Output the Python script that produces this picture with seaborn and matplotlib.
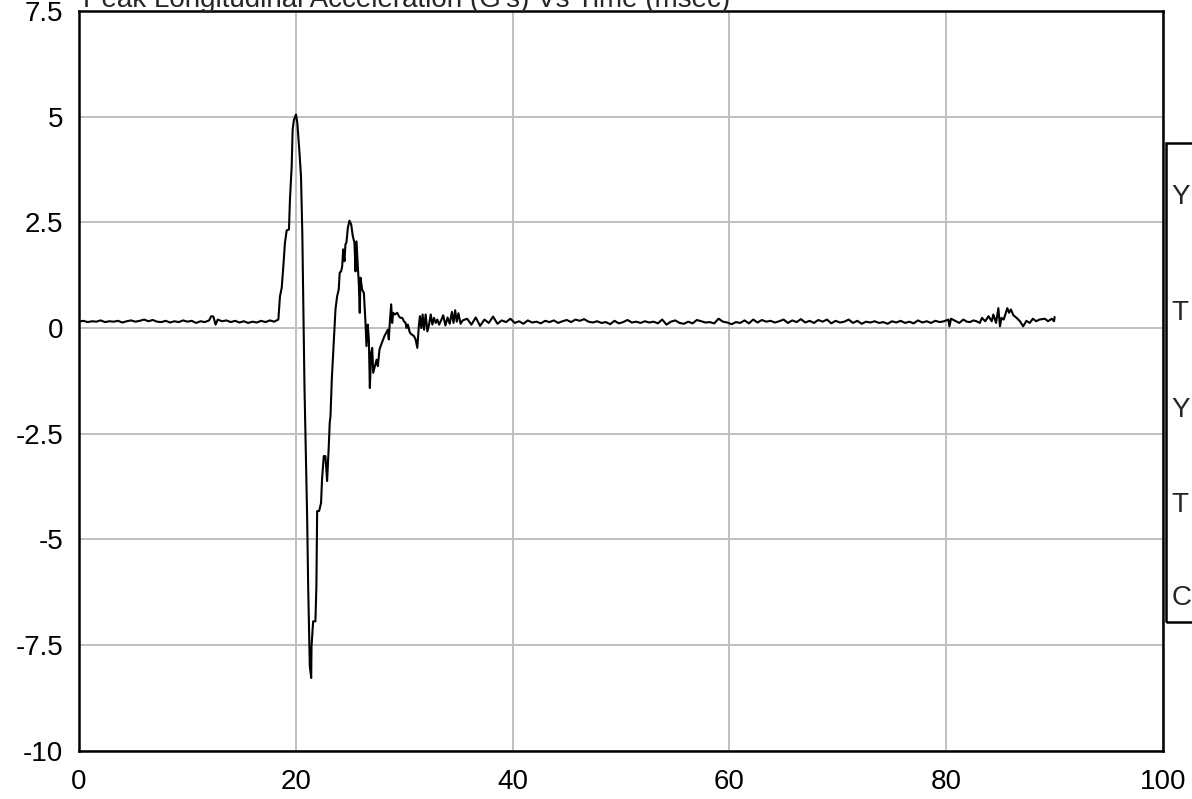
import matplotlib
matplotlib.use("Agg")
import matplotlib.pyplot as plt
import matplotlib.ticker as mticker
from matplotlib.patches import Rectangle
import seaborn as sns
import pandas as pd

# Signal data (time in msec, acceleration in G's)
pre_t = [0.0, 0.4, 0.8, 1.2, 1.6, 2.0, 2.4, 2.8, 3.2, 3.6, 4.0, 4.4, 4.8, 5.2, 5.6,
         6.0, 6.4, 6.8, 7.2, 7.6, 8.0, 8.4, 8.8, 9.2, 9.6, 10.0, 10.4, 10.8, 11.2,
         11.6, 12.0, 12.2, 12.4, 12.6, 12.8, 13.2, 13.6, 14.0, 14.4, 14.8, 15.2,
         15.6, 16.0, 16.4, 16.8, 17.2, 17.6, 18.0, 18.3]
pre_g = [0.15, 0.17, 0.14, 0.16, 0.15, 0.18, 0.14, 0.16, 0.15, 0.17, 0.13, 0.16, 0.18,
         0.15, 0.17, 0.20, 0.16, 0.19, 0.15, 0.14, 0.17, 0.13, 0.16, 0.14, 0.18, 0.15,
         0.17, 0.12, 0.16, 0.14, 0.18, 0.28, 0.27, 0.08, 0.20, 0.16, 0.18, 0.14, 0.17,
         0.13, 0.16, 0.12, 0.15, 0.13, 0.17, 0.14, 0.18, 0.15, 0.19]

crash_t = [18.39, 18.54, 18.7, 18.85, 19.0, 19.16, 19.37, 19.46, 19.62, 19.71, 19.83,
           20.02, 20.14, 20.32, 20.48, 20.6, 20.69, 20.8, 20.92, 21.05, 21.14, 21.23,
           21.29, 21.42, 21.45, 21.6, 21.81, 21.9, 21.97, 22.15, 22.33, 22.42, 22.58,
           22.73, 22.89, 23.04, 23.13, 23.2, 23.32, 23.45, 23.5, 23.66, 23.81, 23.96,
           24.05, 24.18, 24.28, 24.37, 24.49, 24.58, 24.67, 24.8, 24.95, 25.11, 25.26,
           25.41, 25.51, 25.6, 25.72, 25.81, 25.9, 25.97, 26.12, 26.28, 26.43, 26.52,
           26.64, 26.74, 26.83, 26.95, 27.05, 27.14, 27.26, 27.45, 27.57, 27.72, 27.88,
           28.06, 28.18, 28.34, 28.49, 28.58, 28.67, 28.8, 28.89, 28.98, 29.14, 29.36,
           29.51, 29.66, 29.82, 29.97, 30.13, 30.22, 30.34, 30.52, 30.68, 30.9, 31.05,
           31.21, 31.36, 31.45, 31.58, 31.7, 31.83, 31.98, 32.14, 32.29, 32.45, 32.6,
           32.75, 32.91, 33.06, 33.22, 33.37, 33.6, 33.8, 34.0, 34.2, 34.4, 34.55, 34.7,
           34.85, 35.0, 35.2, 35.4]
crash_g = [0.20, 0.75, 0.95, 1.46, 2.02, 2.31, 2.33, 3.04, 3.83, 4.70, 4.93,
           5.05, 4.85, 4.22, 3.59, 2.25, 0.67, -1.38, -2.95, -4.53, -6.10, -7.29,
           -8.00, -8.28, -7.53, -6.94, -6.94, -6.10, -4.33, -4.33, -4.14, -3.58, -3.03,
           -3.03, -3.62, -2.80, -2.24, -2.09, -1.22, -0.59, -0.35, 0.44, 0.75, 0.91,
           1.31, 1.34, 1.46, 1.86, 1.58, 1.98, 2.02, 2.37, 2.54, 2.45, 2.17,
           2.02, 1.34, 2.05, 1.46, 1.07, 0.36, 1.19, 0.91, 0.83, 0.12, -0.43,
           0.08, -0.27, -1.42, -0.59, -0.47, -1.06, -0.94, -0.75, -0.90, -0.51, -0.39,
           -0.27, -0.19, -0.11, -0.04, -0.27, 0.12, 0.56, 0.12, 0.36, 0.32, 0.36,
           0.28, 0.24, 0.24, 0.16, 0.12, 0.00, 0.08, -0.11, -0.15, -0.19, -0.27,
           -0.47, 0.08, 0.28, 0.00, 0.32, -0.04, 0.32, -0.08, 0.08, 0.32, 0.08,
           0.24, 0.12, 0.20, 0.08, 0.16, 0.30, 0.06, 0.25, 0.10, 0.38, 0.12, 0.42,
           0.15, 0.35, 0.10, 0.18]

post_t = [35.8, 36.2, 36.6, 37.0, 37.4, 37.8, 38.2, 38.6, 39.0, 39.4, 39.8, 40.2, 40.6,
          41.0, 41.4, 41.8, 42.2, 42.6, 43.0, 43.4, 43.8, 44.2, 44.6, 45.0, 45.4, 45.8,
          46.2, 46.6, 47.0, 47.4, 47.8, 48.2, 48.6, 49.0, 49.4, 49.8, 50.2, 50.6, 51.0,
          51.4, 51.8, 52.2, 52.6, 53.0, 53.4, 53.8, 54.2, 54.6, 55.0, 55.4, 55.8, 56.2,
          56.6, 57.0, 57.4, 57.8, 58.2, 58.6, 59.0, 59.4, 59.8, 60.2, 60.6, 61.0, 61.4,
          61.8, 62.2, 62.6, 63.0, 63.4, 63.8, 64.2, 64.6, 65.0, 65.4, 65.8, 66.2, 66.6,
          67.0, 67.4, 67.8, 68.2, 68.6, 69.0, 69.4, 69.8, 70.2, 70.6, 71.0, 71.4, 71.8,
          72.2, 72.6, 73.0, 73.4, 73.8, 74.2, 74.6, 75.0, 75.4, 75.8, 76.2, 76.6, 77.0,
          77.4, 77.8, 78.2, 78.6, 79.0, 79.4, 79.8, 80.2, 80.3, 80.45, 80.9, 81.2, 81.58,
          81.9, 82.2, 82.5, 82.8, 83.1, 83.3, 83.6, 83.9, 84.2, 84.35, 84.6, 84.81, 84.96,
          85.1, 85.3, 85.64, 85.8, 85.97, 86.2, 86.5, 86.8, 87.1, 87.4, 87.7, 88.0, 88.3,
          88.6, 89.1, 89.4, 89.73, 89.95, 90.0]
post_g = [0.22, 0.08, 0.25, 0.05, 0.20, 0.12, 0.27, 0.10, 0.18, 0.14, 0.22, 0.12, 0.16,
          0.10, 0.18, 0.13, 0.15, 0.11, 0.17, 0.14, 0.18, 0.12, 0.16, 0.19, 0.14, 0.20,
          0.17, 0.21, 0.15, 0.13, 0.16, 0.12, 0.14, 0.09, 0.17, 0.11, 0.14, 0.19, 0.13,
          0.15, 0.12, 0.16, 0.13, 0.15, 0.11, 0.20, 0.08, 0.15, 0.18, 0.12, 0.10, 0.15,
          0.11, 0.19, 0.16, 0.13, 0.14, 0.11, 0.22, 0.15, 0.13, 0.09, 0.14, 0.12, 0.18,
          0.11, 0.20, 0.13, 0.19, 0.15, 0.17, 0.13, 0.16, 0.20, 0.12, 0.18, 0.14, 0.21,
          0.13, 0.17, 0.12, 0.19, 0.15, 0.20, 0.11, 0.17, 0.13, 0.15, 0.20, 0.12, 0.17,
          0.10, 0.15, 0.13, 0.16, 0.12, 0.14, 0.10, 0.16, 0.13, 0.17, 0.12, 0.15, 0.11,
          0.18, 0.13, 0.16, 0.12, 0.17, 0.14, 0.16, 0.20, 0.04, 0.22, 0.16, 0.12, 0.20,
          0.15, 0.14, 0.18, 0.16, 0.12, 0.24, 0.16, 0.28, 0.16, 0.32, 0.12, 0.47, 0.04,
          0.24, 0.20, 0.47, 0.36, 0.44, 0.30, 0.24, 0.16, 0.04, 0.17, 0.12, 0.22, 0.16,
          0.20, 0.22, 0.16, 0.22, 0.16, 0.26]

x_ticks = [0, 20, 40, 60, 80, 100]
y_ticks = [-10, -7.5, -5, -2.5, 0, 2.5, 5, 7.5]
y_labels = ["-10", "-7.5", "-5", "-2.5", "0", "2.5", "5", "7.5"]
title = "Peak Longitudinal Acceleration (G's) Vs Time (msec)"
info_lines = ["Y max = 5.05 G's", "T at Y max = 20.0 msec", "Y min = -8.28 G's",
              "T at Y min = 21.4 msec", "CFC 60"]

df = pd.DataFrame({"t": pre_t + crash_t + post_t, "g": pre_g + crash_g + post_g})

sns.set_style("white")
plt.rcParams["font.family"] = ["Liberation Sans", "DejaVu Sans"]
plt.rcParams["axes.unicode_minus"] = False

fig = plt.figure(figsize=(11.92, 7.99), dpi=100)
ax = fig.add_axes([79 / 1192, 1 - 750.7 / 799, (1163 - 79) / 1192, (750.7 - 11) / 799])

sns.lineplot(data=df, x="t", y="g", color="black", linewidth=1.5,
             estimator=None, sort=False, ax=ax)

ax.set_xlim(0, 100)
ax.set_ylim(-10, 7.5)
ax.set_xticks(x_ticks)
ax.set_xticklabels([str(v) for v in x_ticks])
ax.set_yticks(y_ticks)
ax.set_yticklabels(y_labels)
ax.xaxis.set_minor_locator(mticker.MultipleLocator(4))
ax.yaxis.set_minor_locator(mticker.MultipleLocator(1.25))
ax.set_xlabel("")
ax.set_ylabel("")

ax.grid(True, which="major", color="#c0c0c0", linewidth=1.4)
ax.set_axisbelow(True)
for side in ["left", "bottom", "top", "right"]:
    ax.spines[side].set_visible(True)
    ax.spines[side].set_color("black")
    ax.spines[side].set_linewidth(1.8)

ax.tick_params(which="major", direction="inout", length=19, width=1.4,
               color="black", labelsize=20, labelcolor="black")
ax.tick_params(axis="x", which="major", pad=4)
ax.tick_params(axis="y", which="major", pad=2)
ax.tick_params(which="minor", direction="inout", length=11.5, width=1.4, color="black")
ax.tick_params(top=False, right=False, which="both")

fig.text(83 / 1192, 1 - 7 / 799, title, fontsize=20, ha="left", va="baseline")

# info box on the right, cut off by the figure edge
fig.patches.append(Rectangle((1166 / 1192, 1 - 622 / 799), 200 / 1192, (622 - 143) / 799,
                             transform=fig.transFigure, fill=False, edgecolor="black",
                             linewidth=1.8, clip_on=False))
for yy, line in zip([197, 313, 410, 505, 598], info_lines):
    fig.text(1172 / 1192, 1 - yy / 799, line, fontsize=20, ha="left", va="center")

fig.savefig("out.png", dpi=100)
